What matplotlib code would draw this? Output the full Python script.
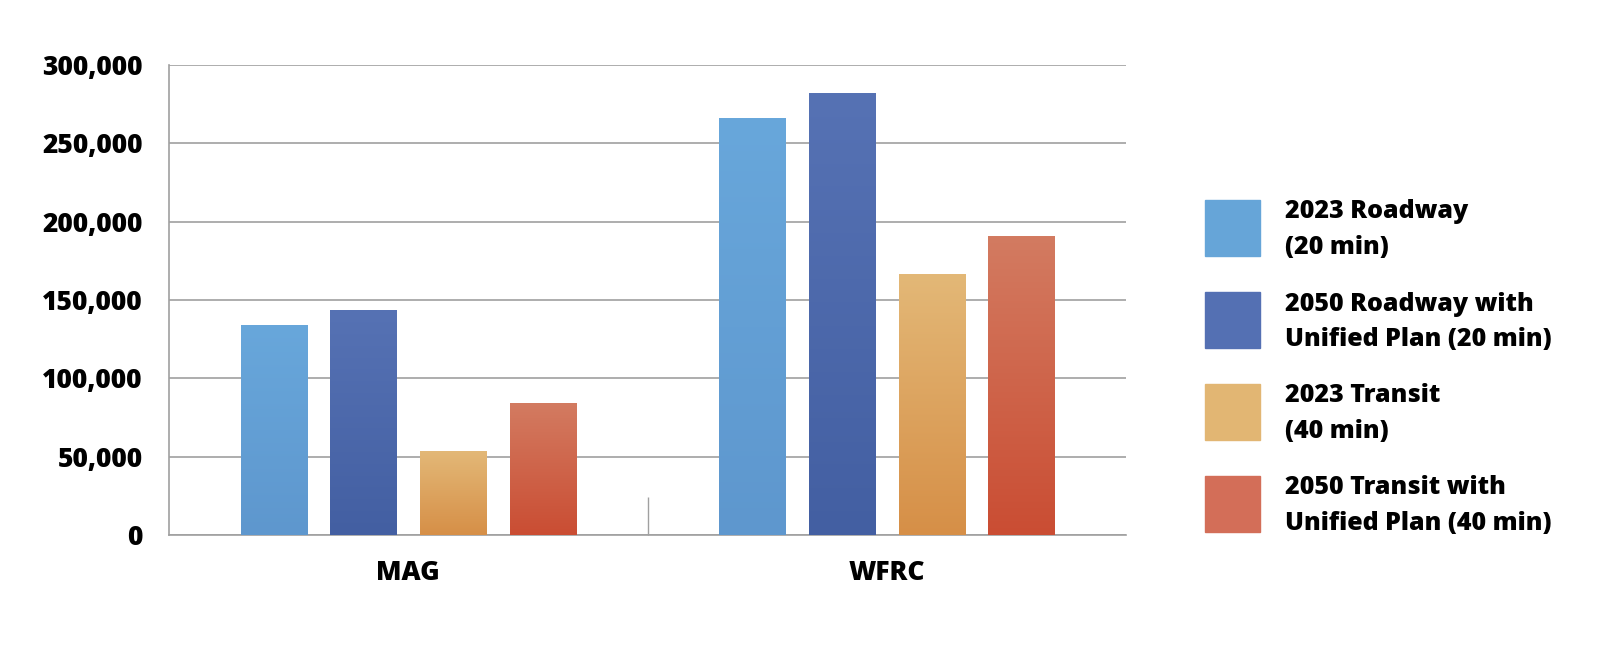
import matplotlib
matplotlib.use("Agg")
import matplotlib.pyplot as plt
import numpy as np
from matplotlib.colors import LinearSegmentedColormap
from matplotlib.patches import Rectangle
from matplotlib.ticker import FuncFormatter

plt.rcParams['font.family'] = ['Open Sans', 'DejaVu Sans']
plt.rcParams['font.weight'] = 'heavy'

categories = ['MAG', 'WFRC']
series = ['2023 Roadway\n(20 min)',
          '2050 Roadway with\nUnified Plan (20 min)',
          '2023 Transit\n(40 min)',
          '2050 Transit with\nUnified Plan (40 min)']
roadway_2023 = [134000, 266000]
roadway_2050 = [143000, 282000]
transit_2023 = [53000, 166500]
transit_2050 = [84000, 190500]
values = [roadway_2023, roadway_2050, transit_2023, transit_2050]
yticks = [0, 50000, 100000, 150000, 200000, 250000, 300000]

# (top, bottom) gradient colours, plus flat legend colour
grad_top = ['#68a7db', '#5672b4', '#e3b877', '#d37b61']
grad_bot = ['#5e97ce', '#435fa2', '#d68f47', '#ca4d33']
legend_col = ['#66a5d8', '#5470b3', '#e2b673', '#d36e58']

W, H = 1614, 645
fig = plt.figure(figsize=(W / 100, H / 100), dpi=100)
ax = fig.add_axes([169 / W, 1 - 535 / H, (1126 - 169) / W, (535 - 65) / H])

x = np.arange(len(categories))
step = 0.1875
width = 0.138
for i, vals in enumerate(values):
    bars = ax.bar(x + (i - 1.5) * step, vals, width, color=legend_col[i], zorder=2)
    cmap = LinearSegmentedColormap.from_list('g%d' % i, [grad_bot[i], grad_top[i]])
    grad = np.linspace(0, 1, 256).reshape(-1, 1)
    for b in bars:
        x0 = b.get_x()
        ax.imshow(grad, extent=[x0, x0 + b.get_width(), 0, b.get_height()],
                  origin='lower', aspect='auto', cmap=cmap, zorder=3)

ax.set_xlim(-0.5, 1.5)
ax.set_ylim(0, 300000)
ax.set_yticks(yticks)
ax.yaxis.set_major_formatter(FuncFormatter(lambda v, p: '{:,.0f}'.format(v)))
ax.set_xticks(x)
ax.set_xticklabels(categories)
ax.set_xticks([0.5], minor=True)
ax.grid(axis='y', color='#a0a0a0', linewidth=1.2, zorder=0)
ax.set_axisbelow(True)
for s in ['top', 'right']:
    ax.spines[s].set_visible(False)
ax.spines['left'].set_color('#a0a0a0')
ax.spines['bottom'].set_color('#a0a0a0')
ax.spines['left'].set_linewidth(1.2)
ax.spines['bottom'].set_linewidth(1.2)
ax.tick_params(axis='y', length=0, pad=19, labelsize=19)
ax.tick_params(axis='x', which='major', length=0, pad=18, labelsize=19)
ax.tick_params(axis='x', which='minor', direction='in', length=27.5,
               color='#a0a0a0', width=1.0)

# legend drawn by hand to match the boxed layout
for i, lab in enumerate(series):
    top = 200 + i * 92
    fig.patches.append(Rectangle((1205 / W, 1 - (top + 56) / H), 55 / W, 56 / H,
                                 transform=fig.transFigure, color=legend_col[i]))
    for j, line in enumerate(lab.split('\n')):
        fig.text(1285 / W, 1 - (top + 18.5 + j * 35) / H, line, fontsize=18,
                 fontweight='heavy', va='baseline', ha='left')

fig.savefig('out.png', dpi=100)
